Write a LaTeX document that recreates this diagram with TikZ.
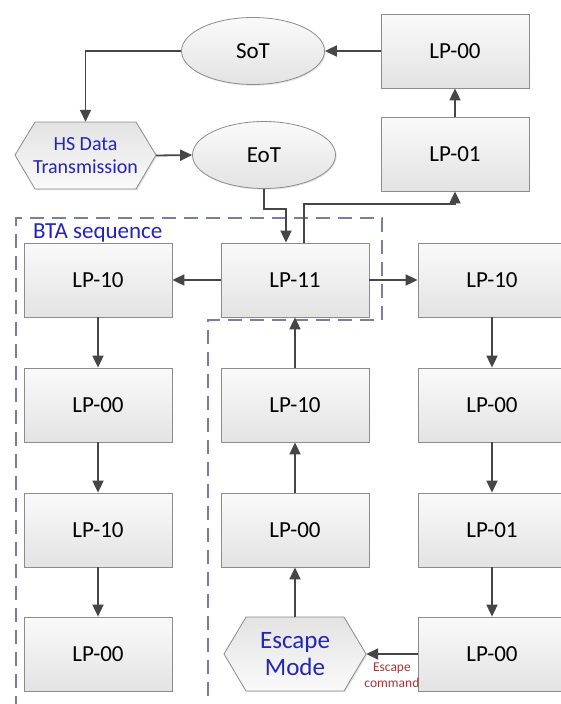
\documentclass[tikz,border=0pt]{standalone}
\usepackage{fontspec}
\setmainfont{Carlito}
\usetikzlibrary{arrows.meta,shapes.geometric,shadows}
\definecolor{linec}{RGB}{70,70,70}
\definecolor{boxb}{RGB}{140,140,140}
\definecolor{dashc}{RGB}{125,125,160}
\definecolor{bluet}{RGB}{35,35,190}
\definecolor{redt}{RGB}{172,52,52}
\tikzset{
  shade/.style={top color=black!2, bottom color=black!11,
    drop shadow={shadow xshift=1.2pt, shadow yshift=-1.2pt, opacity=0.22}},
  lpbox/.style={shade, draw=boxb, line width=0.8pt, rectangle,
    minimum width=148pt, minimum height=74pt, inner sep=0pt,
    font=\fontsize{23}{27}\selectfont},
  ovalbox/.style={shade, draw=boxb, line width=0.8pt, ellipse,
    minimum width=143pt, minimum height=67pt, inner sep=0pt,
    font=\fontsize{23}{27}\selectfont},
  % paths are drawn with the flipped y axis, so the shading colours are swapped
  hexshape/.style={top color=black!11, bottom color=black!2,
    drop shadow={shadow xshift=1.2pt, shadow yshift=-1.2pt, opacity=0.22},
    draw=boxb, line width=0.8pt},
  hexlabel/.style={rectangle, inner sep=0pt, align=center, text=bluet},
  arr/.style={draw=linec, line width=1.8pt, -{Triangle[length=12pt,width=11pt]}},
  frame/.style={draw=dashc, line width=1.8pt, dash pattern=on 14pt off 8pt},
}
\begin{document}
\begin{tikzpicture}[x=1pt, y=-1pt]
\useasboundingbox (0,0) rectangle (561,704);
\clip (0,0) rectangle (561,704);
\fill[white] (0,0) rectangle (561,704);

% dashed BTA frame
\draw[frame] (16,710) -- (16,218) -- (382,218) -- (382,320) -- (208,320) -- (208,710);
\node[anchor=west, inner sep=0pt, text=bluet, font=\fontsize{23}{27}\selectfont] (bta) at (33,233) {BTA sequence};

% top part
\node[lpbox] (lp00t) at (455,51) {LP-00};
\node[lpbox] (lp01t) at (455,154) {LP-01};
\node[ovalbox] (sot) at (253,51) {SoT};
\node[ovalbox] (eot) at (264,155) {EoT};
\path[hexshape] (15,155) -- (35,122) -- (136,122) -- (156,155) -- (136,189) -- (35,189) -- cycle;
\node[hexlabel, minimum width=141pt, minimum height=67pt, font=\fontsize{20}{23}\selectfont]
  (hs) at (85.5,155.5) {HS Data\\Transmission};

% grid
\node[lpbox] (l1) at (98,280) {LP-10};
\node[lpbox] (l2) at (98,405) {LP-00};
\node[lpbox] (l3) at (98,530) {LP-10};
\node[lpbox] (l4) at (98,654) {LP-00};
\node[lpbox] (m1) at (295,280) {LP-11};
\node[lpbox] (m2) at (295,405) {LP-10};
\node[lpbox] (m3) at (295,530) {LP-00};
\node[lpbox] (r1) at (492,280) {LP-10};
\node[lpbox] (r2) at (492,405) {LP-00};
\node[lpbox] (r3) at (492,530) {LP-01};
\node[lpbox] (r4) at (492,654) {LP-00};
\path[hexshape] (224,654) -- (246,617) -- (344,617) -- (366,654) -- (344,691) -- (246,691) -- cycle;
\node[hexlabel, minimum width=142pt, minimum height=74pt, font=\fontsize{25}{27}\selectfont]
  (esc) at (295,654) {Escape\\Mode};

% connectors
\coordinate (j1) at (286,209);
\coordinate (j2) at (304,204);
\draw[arr] (lp00t.west) -- (sot.east);
\draw[arr] (sot.west) -| (hs.north);
\draw[arr] (hs.east) -- (eot.west);
\draw[arr] (eot.south) |- (j1) -- (j1 |- m1.north);
\draw[arr] (j2 |- m1.north) -- (j2) -| (lp01t.south);
\draw[arr] (lp01t.north) -- (lp00t.south);
\draw[arr] (m1.west) -- (l1.east);
\draw[arr] (m1.east) -- (r1.west);
\draw[arr] (l1.south) -- (l2.north);
\draw[arr] (l2.south) -- (l3.north);
\draw[arr] (l3.south) -- (l4.north);
\draw[arr] (r1.south) -- (r2.north);
\draw[arr] (r2.south) -- (r3.north);
\draw[arr] (r3.south) -- (r4.north);
\draw[arr] (r4.west) -- node[midway, below=8pt, inner sep=0pt, align=center, text=redt,
  font=\fontsize{13.5}{16}\selectfont] (esccmd) {Escape\\command} (esc.east);
\draw[arr] (esc.north) -- (m3.south);
\draw[arr] (m3.north) -- (m2.south);
\draw[arr] (m2.north) -- (m1.south);
\end{tikzpicture}
\end{document}
